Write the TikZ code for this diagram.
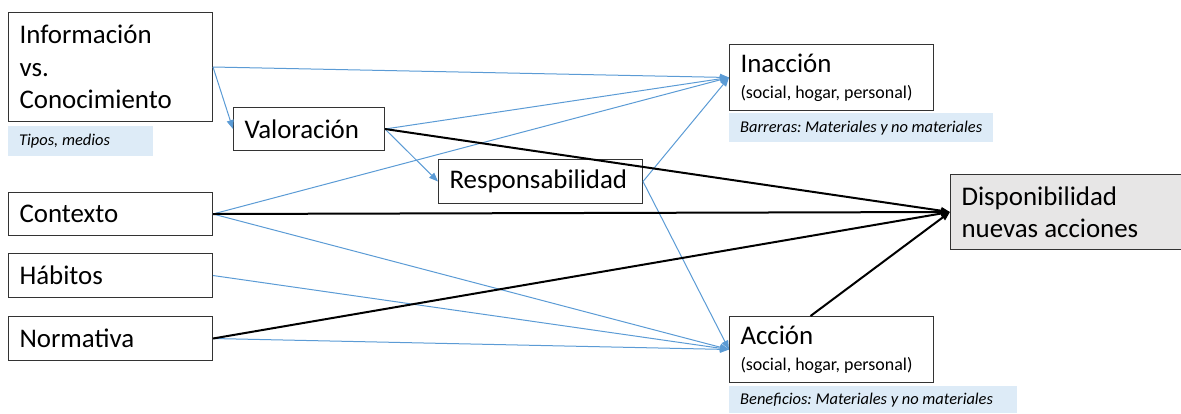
\documentclass[tikz,border=0pt]{standalone}
\usepackage{fontspec}
\setmainfont{Carlito}
\usetikzlibrary{arrows.meta}
\definecolor{azul}{HTML}{5B9BD5}
\definecolor{azulclaro}{HTML}{DDEBF7}
\definecolor{grisclaro}{HTML}{E7E6E6}
\frenchspacing
\newcommand{\grande}{\fontsize{27}{32.5}\selectfont}
\newcommand{\chico}{\fontsize{18}{21}\selectfont}
\newcommand{\notafont}{\fontsize{16.5}{18}\selectfont\itshape}

\begin{document}
\begin{tikzpicture}[x=1bp,y=-1bp,>={Triangle[length=9bp,width=7bp]},
  caja/.style={draw=black!80,line width=1bp,fill=white,anchor=north west,inner xsep=11bp,inner ysep=0pt,align=flush left,font=\grande},
  nota/.style={fill=azulclaro,anchor=north west,inner xsep=11bp,inner ysep=0pt,align=flush left,font=\notafont},
  azulf/.style={->,draw=azul,line width=1bp},
  negraf/.style={->,draw=black,line width=2bp}]
\useasboundingbox (0,0) rectangle (1181,413);
\node[caja,text width=182bp,minimum height=109bp] (info) at (8,12) {Información\\vs.\\Conocimiento};
\node[nota,text width=123bp,minimum height=30bp] (tipos) at (8,126) {Tipos, medios};
\node[caja,text width=129bp,minimum height=43bp] (valor) at (233,107) {Valoración};
\node[caja,text width=182bp,minimum height=44bp] (resp) at (438,159) {Responsabilidad};
\node[caja,text width=182bp,minimum height=43bp] (contexto) at (8,192) {Contexto};
\node[caja,text width=182bp,minimum height=44bp] (habitos) at (8,253) {Hábitos};
\node[caja,text width=182bp,minimum height=44bp] (normativa) at (8,316) {Normativa};
\node[caja,text width=182bp,minimum height=66bp] (inaccion) at (729,44) {Inacción\\[-6bp]{\chico (social, hogar, personal)}};
\node[nota,text width=242bp,minimum height=29bp] (barreras) at (729,113) {Barreras: Materiales y no materiales};
\node[caja,fill=grisclaro,text width=210bp,minimum height=75bp] (dispon) at (950,174) {Disponibilidad\\nuevas acciones};
\node[caja,text width=182bp,minimum height=66bp] (accion) at (729,316) {Acción\\[-6bp]{\chico (social, hogar, personal)}};
\node[nota,text width=266bp,minimum height=27bp] (beneficios) at (729,386) {Beneficios: Materiales y no materiales};

\draw[azulf] (info.east) -- (inaccion.west);
\draw[azulf] (info.east) -- (valor.west);
\draw[azulf] (valor.east) -- (inaccion.west);
\draw[azulf] (valor.east) -- (resp.west);
\draw[azulf] (contexto.east) -- (inaccion.west);
\draw[azulf] (resp.east) -- (inaccion.west);
\draw[azulf] (resp.east) -- (accion.west);
\draw[azulf] (contexto.east) -- (accion.west);
\draw[azulf] (habitos.east) -- (accion.west);
\draw[azulf] (normativa.east) -- (accion.west);
\draw[negraf] (valor.east) -- (dispon.west);
\draw[negraf] (contexto.east) -- (dispon.west);
\draw[negraf] (normativa.east) -- (dispon.west);
\draw[negraf] ([xshift=-21bp]accion.north) -- (dispon.west);
\end{tikzpicture}
\end{document}
